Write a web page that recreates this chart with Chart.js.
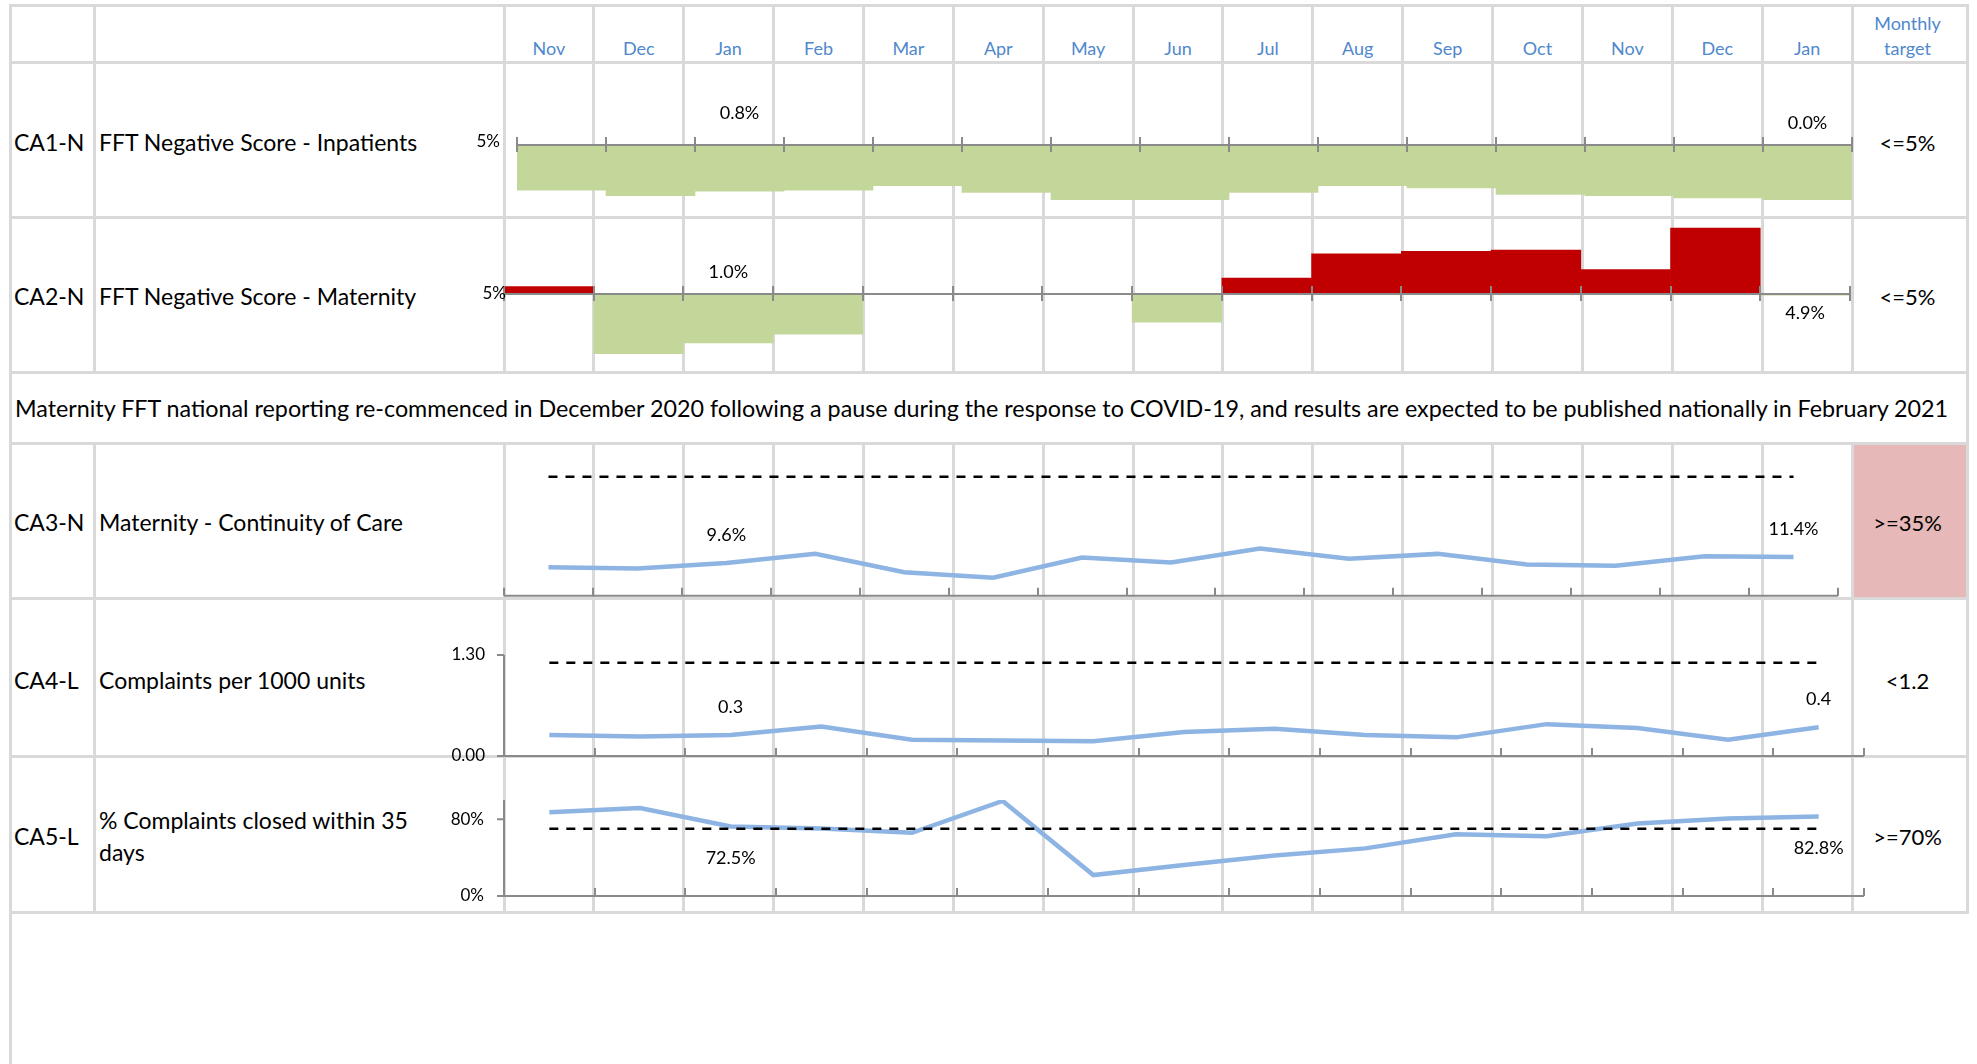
<!DOCTYPE html>
<html>
<head>
<meta charset="utf-8">
<title>Patient experience scorecard</title>
<script src="https://cdn.jsdelivr.net/npm/chart.js@4.4.1/dist/chart.umd.min.js"></script>
<style>
  html, body { margin: 0; padding: 0; background: #fff; }
  #sheet { position: relative; width: 1977px; height: 1064px; overflow: hidden; font-family: Lato, "Open Sans", sans-serif; color: #000; }
  .rule { position: absolute; background: #d9d9d9; }
  .txt { position: absolute; white-space: nowrap; }
  canvas { position: absolute; }
</style>
</head>
<body>
<div id="sheet"></div>
<script>
const months = ['Nov', 'Dec', 'Jan', 'Feb', 'Mar', 'Apr', 'May', 'Jun', 'Jul', 'Aug', 'Sep', 'Oct', 'Nov', 'Dec', 'Jan'];

// CA1-N / CA2-N : % negative FFT responses, bars hang off the 5% threshold
const inpatientNegative = [0.9, 0.4, 0.8, 0.9, 1.3, 0.7, 0.0, 0.0, 0.7, 1.3, 1.1, 0.5, 0.4, 0.2, 0.0];
const maternityNegative = [5.6, 0.1, 1.0, 1.7, null, null, null, 2.7, 6.3, 8.3, 8.5, 8.6, 7.0, 10.4, 4.9];
const fftThreshold = 5;

// CA3-N
const continuityOfCare = [8.4, 8.0, 9.6, 12.3, 6.9, 5.3, 11.2, 9.8, 13.9, 10.9, 12.3, 9.2, 8.8, 11.6, 11.4];
const continuityTarget = [35, 35, 35, 35, 35, 35, 35, 35, 35, 35, 35, 35, 35, 35, 35];

// CA4-L
const complaintsPer1000 = [0.27, 0.25, 0.27, 0.38, 0.21, 0.20, 0.19, 0.31, 0.35, 0.27, 0.24, 0.41, 0.36, 0.21, 0.37];
const complaintsTarget = [1.2, 1.2, 1.2, 1.2, 1.2, 1.2, 1.2, 1.2, 1.2, 1.2, 1.2, 1.2, 1.2, 1.2, 1.2];

// CA5-L
const closedWithin35 = [87.3, 91.7, 72.5, 70.3, 65.8, 99.0, 21.8, 32.2, 42.3, 49.6, 64.4, 62.3, 75.5, 80.7, 82.8];
const closedTarget = [70, 70, 70, 70, 70, 70, 70, 70, 70, 70, 70, 70, 70, 70, 70];

const rowCodes = ['CA1-N', 'CA2-N', 'CA3-N', 'CA4-L', 'CA5-L'];
const rowTitles = [
  'FFT Negative Score - Inpatients',
  'FFT Negative Score - Maternity',
  'Maternity - Continuity of Care',
  'Complaints per 1000 units',
  '% Complaints closed within 35\ndays'
];
const monthlyTargets = ['<=5%', '<=5%', '>=35%', '<1.2', '>=70%'];
const footnote = 'Maternity FFT national reporting re-commenced in December 2020 following a pause during the response to COVID-19, and results are expected to be published nationally in February 2021';

// ---- sheet layout ----
const sheet = document.getElementById('sheet');
const leftEdge = 10, codeCol = 94, monthStart = 504, monthW = 89.87, rightEdge = 1967;
const monthEnd = monthStart + monthW * months.length;
const rowLines = [5, 62, 217, 372, 443, 598, 756, 912];
const rowCentres = [142, 296, 522, 680, 836];

function rule(x, y, w, h) {
  const d = document.createElement('div');
  d.className = 'rule';
  Object.assign(d.style, { left: x + 'px', top: y + 'px', width: w + 'px', height: h + 'px' });
  sheet.appendChild(d);
  return d;
}

function text(str, x, y, style, anchor) {
  const d = document.createElement('div');
  d.className = 'txt';
  d.textContent = str;
  Object.assign(d.style, { left: x + 'px', top: y + 'px' }, style || {});
  d.style.transform = anchor === 'left' ? 'translate(0, -50%)' : 'translate(-50%, -50%)';
  sheet.appendChild(d);
  return d;
}

// pink fill behind the CA3-N target
const pink = rule(monthEnd, rowLines[4], rightEdge - monthEnd, rowLines[5] - rowLines[4]);
pink.style.background = '#e6b8b7';

rowLines.forEach(y => rule(leftEdge - 1.5, y - 1.5, rightEdge - leftEdge + 3, 3));
rule(leftEdge - 1.5, rowLines[0], 3, 1064);
rule(rightEdge - 1.5, rowLines[0], 3, rowLines[7] - rowLines[0]);
const innerCols = [codeCol];
for (let i = 0; i <= months.length; i++) innerCols.push(monthStart + i * monthW);
innerCols.forEach(x => {
  rule(x - 1.5, rowLines[0], 3, rowLines[3] - rowLines[0]);
  rule(x - 1.5, rowLines[4], 3, rowLines[7] - rowLines[4]);
});

// header
const headBlue = '#4f88cc';
months.forEach((m, i) => text(m, monthStart + monthW * (i + 0.5), 48, { fontSize: '18px', color: headBlue }));
const tgtX = (monthEnd + rightEdge) / 2 - 2;
text('Monthly', tgtX, 23, { fontSize: '18px', color: headBlue });
text('target', tgtX, 48, { fontSize: '18px', color: headBlue });

// row labels and targets
rowCodes.forEach((c, i) => {
  text(c, 14, rowCentres[i], { fontSize: '23px' }, 'left');
  text(rowTitles[i], 99, rowCentres[i], { fontSize: '23px', whiteSpace: 'pre-line', lineHeight: '32px' }, 'left');
  text(monthlyTargets[i], tgtX, rowCentres[i], { fontSize: '22px' });
});

// footnote stretched across the full width
const meas = document.createElement('canvas').getContext('2d');
meas.font = '100px Lato';
const noteSize = 100 * (1952 - 15) / meas.measureText(footnote).width;
text(footnote, 15, 408, { fontSize: noteSize.toFixed(2) + 'px' }, 'left');

// ---- charts ----
const boxLeft = 420, boxRight = 1900;

// axis line, tick marks, value-axis labels and the two callout labels
function sheetAxes(cfg) {
  return {
    id: 'sheetAxes',
    afterDatasetsDraw(chart) {
      const { ctx, chartArea: area, scales: { x, y } } = chart;
      const axisY = y.getPixelForValue(cfg.axisAt);
      ctx.save();
      ctx.strokeStyle = '#8a8a8a';
      ctx.lineWidth = 2;
      ctx.beginPath();
      ctx.moveTo(area.left, axisY);
      ctx.lineTo(area.right, axisY);
      for (let i = 0; i <= months.length; i++) {
        const px = Math.round(x.getPixelForValue(i - 0.5));
        ctx.moveTo(px, axisY - 8);
        ctx.lineTo(px, axisY + (cfg.crossTicks ? 7 : 0));
      }
      if (cfg.valueAxis) {
        ctx.moveTo(area.left, area.top);
        ctx.lineTo(area.left, axisY);
        cfg.yLabels.forEach(v => {
          const py = y.getPixelForValue(v);
          ctx.moveTo(area.left - 7, py);
          ctx.lineTo(area.left, py);
        });
      }
      ctx.stroke();

      ctx.fillStyle = '#000';
      ctx.textBaseline = 'middle';
      ctx.font = '17px Lato';
      ctx.textAlign = 'right';
      cfg.yLabels.forEach((v, k) => ctx.fillText(cfg.yText[k], area.left - cfg.yGap, y.getPixelForValue(v) + (cfg.yShift || 0)));

      ctx.font = '18px Lato';
      ctx.textAlign = 'center';
      const values = chart.data.datasets[cfg.valueSet].data;
      cfg.callouts.forEach(c => {
        const v = values[c.index];
        const from = c.fromAxis ? axisY : y.getPixelForValue(v);
        ctx.fillText(v.toFixed(1) + cfg.unit, x.getPixelForValue(c.index), from + c.dy);
      });
      ctx.restore();
    }
  };
}

function makeChart(plot, boxTop, boxBottom, yMin, yMax, datasets, type, axisCfg) {
  const canvas = document.createElement('canvas');
  canvas.width = boxRight - boxLeft;
  canvas.height = boxBottom - boxTop;
  canvas.style.left = boxLeft + 'px';
  canvas.style.top = boxTop + 'px';
  sheet.appendChild(canvas);
  return new Chart(canvas, {
    type: type,
    data: { labels: months, datasets: datasets },
    options: {
      responsive: false,
      animation: false,
      events: [],
      layout: {
        padding: {
          left: plot.left - boxLeft,
          right: boxRight - plot.right,
          top: plot.top - boxTop,
          bottom: boxBottom - plot.bottom
        }
      },
      plugins: { legend: { display: false }, tooltip: { enabled: false } },
      scales: {
        x: { display: false, offset: true },
        y: { display: false, min: yMin, max: yMax }
      }
    },
    plugins: [sheetAxes(axisCfg)]
  });
}

const green = '#c4d79b', red = '#c00000', lineBlue = '#8db4e2';

function fftBars(values) {
  return [{
    data: values,
    base: fftThreshold,
    backgroundColor: ctx => ctx.raw > fftThreshold ? red : green,
    borderWidth: 0,
    categoryPercentage: 1,
    barPercentage: 1
  }];
}

function trend(values, target) {
  return [
    { data: target, borderColor: '#000', borderWidth: 2.5, borderDash: [9, 8], pointRadius: 0, fill: false },
    { data: values, borderColor: lineBlue, borderWidth: 4.5, pointRadius: 0, tension: 0, fill: false }
  ];
}

// CA1-N
makeChart({ left: 517, right: 1852, top: 90, bottom: 200 }, 62, 220, 0, 10,
  fftBars(inpatientNegative), 'bar',
  { axisAt: fftThreshold, crossTicks: true, yLabels: [5], yText: ['5%'], yGap: 17, yShift: -3,
    valueSet: 0, unit: '%', callouts: [{ index: 2, dy: -32, fromAxis: true }, { index: 14, dy: -22, fromAxis: true }] });

// CA2-N
makeChart({ left: 504, right: 1850, top: 220.8, bottom: 355 }, 217, 376, 0, 11,
  fftBars(maternityNegative), 'bar',
  { axisAt: fftThreshold, crossTicks: true, yLabels: [5], yText: ['5%'], yGap: -2, yShift: 0,
    valueSet: 0, unit: '%', callouts: [{ index: 2, dy: -22, fromAxis: true }, { index: 14, dy: 19, fromAxis: true }] });

// CA3-N
makeChart({ left: 504, right: 1838, top: 459.7, bottom: 595.7 }, 443, 603, 0, 40,
  trend(continuityOfCare, continuityTarget), 'line',
  { axisAt: 0, crossTicks: false, yLabels: [], yText: [], yGap: 0,
    valueSet: 1, unit: '%', callouts: [{ index: 2, dy: -28 }, { index: 14, dy: -28 }] });

// CA4-L
makeChart({ left: 504, right: 1864, top: 655, bottom: 756 }, 598, 762, 0, 1.3,
  trend(complaintsPer1000, complaintsTarget), 'line',
  { axisAt: 0, crossTicks: false, valueAxis: true, yLabels: [1.3, 0], yText: ['1.30', '0.00'], yGap: 19,
    valueSet: 1, unit: '', callouts: [{ index: 2, dy: -28 }, { index: 14, dy: -28 }] });

// CA5-L
makeChart({ left: 504, right: 1864, top: 800, bottom: 896 }, 756, 912, 0, 100,
  trend(closedWithin35, closedTarget), 'line',
  { axisAt: 0, crossTicks: false, valueAxis: true, yLabels: [80, 0], yText: ['80%', '0%'], yGap: 20,
    valueSet: 1, unit: '%', callouts: [{ index: 2, dy: 32 }, { index: 14, dy: 32 }] });
</script>
</body>
</html>
